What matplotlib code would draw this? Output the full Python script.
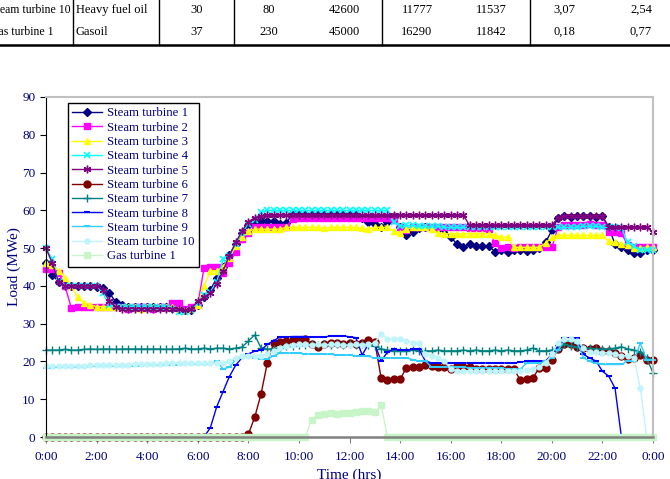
"""Recreate the turbine load profile chart (with the cut-off table rows above it)."""

import matplotlib

matplotlib.use("Agg")

import matplotlib.pyplot as plt
import numpy as np
from matplotlib.lines import Line2D

# 15-minute readings, 0:00 .. 24:00 (97 points)
hours = np.arange(97) / 4.0

steam_1 = [
    46, 43, 41, 40.5, 40, 40, 40, 40,
    39.8, 39.5, 38.2, 35.8, 35, 34.5, 34.5, 34.5,
    34.5, 34.5, 34.3, 34.3, 34.2, 34, 33.5, 33.5,
    35, 37, 39, 42, 45, 48.3, 51, 54,
    56, 57, 57.2, 57.2, 57.3, 56.5, 56.6, 59.2,
    59, 59, 59, 59, 59, 59, 59, 59,
    59, 59, 58, 56.8, 56.5, 55.5, 57, 58.2,
    55.5, 53.6, 54.2, 55.2, 55.5, 55.3, 55, 55,
    53, 51, 50.2, 51, 50.5, 50.5, 50.5, 49.1,
    49.5, 49.1, 49.4, 49.4, 49.3, 49.5, 50, 51.5,
    54.7, 58.1, 58.5, 58.3, 58.5, 58.4, 58.5, 58.3,
    58.4, 55.5, 51, 50.2, 49.6, 48.6, 48.8, 49.6,
    49.6,
]
steam_2 = [
    44.5, 44.5, 43.5, 40, 34.2, 34.5, 34.5, 34.5,
    34.5, 34.5, 34.5, 34.5, 34.5, 34, 34.5, 34.5,
    34.5, 34, 34.5, 34.5, 35.5, 35.5, 34, 34.5,
    35, 44.8, 45, 45, 43.5, 46, 49, 52.5,
    54, 55.5, 55.5, 55.5, 55.5, 55.5, 55.5, 57.8,
    58, 58, 58, 58, 58, 58, 58, 58,
    58, 58, 58, 58, 58, 58, 58, 57.5,
    55.5, 54.7, 55.5, 55.5, 55.5, 55.5, 55.5, 55.5,
    55.5, 55.5, 55.5, 55.3, 55.3, 55.3, 55, 51.3,
    50, 50.2, 50, 50.2, 50.2, 50.2, 50.2, 50.2,
    50.2, 55.5, 56, 56, 56, 56.2, 56.5, 56,
    56, 54.2, 54.2, 54, 50.7, 50.2, 50.2, 50.2,
    50.2,
]
steam_3 = [
    46, 45.5, 44, 42, 40, 37, 35.5, 35,
    34.5, 34.5, 34.5, 34.5, 34.5, 34.5, 34.5, 34,
    34.5, 34.5, 34.5, 34.5, 34.5, 34, 33.5, 34,
    35, 40, 44, 44, 45, 47.5, 50.5, 53,
    54.5, 55, 55, 55, 55, 55, 55.5, 55.5,
    55.5, 55.5, 55.5, 55.5, 55.2, 55.5, 55.5, 55.5,
    55.5, 55.5, 55.2, 55, 55.5, 55.5, 55.5, 54.5,
    54, 55, 55.5, 55.5, 55.5, 55, 54, 53.8,
    53.8, 53.8, 53.8, 53.8, 53.8, 53.8, 53.8, 53.4,
    52.9, 52.9, 50.2, 50.2, 50.2, 50.2, 50.2, 51.3,
    52.9, 53.4, 53.4, 53.4, 53.4, 53.4, 53.4, 53.4,
    53.4, 51.8, 51.5, 51.2, 50.7, 49.9, 50, 50.2,
    50.2,
]
steam_4 = [
    50, 47, 41, 40, 40, 40, 40, 40,
    40, 38, 35, 34.5, 34.5, 34.5, 34.5, 34.5,
    34.5, 34.5, 34.5, 34.5, 34, 33, 33, 33.5,
    35.5, 37.5, 38.5, 41, 47, 48, 51, 54,
    56.5, 57.5, 59.5, 60, 60, 60, 60, 60,
    60, 60, 60, 60, 60, 60, 60, 60,
    60, 60, 60, 60, 60, 60, 60, 57,
    55.8, 56, 56, 55.8, 55.8, 55.8, 55.8, 55.5,
    55.5, 55.5, 55.5, 55.5, 55.5, 55.5, 55.5, 55.5,
    55.5, 55.5, 55.5, 55.5, 55.5, 55.5, 55.5, 55.5,
    55.5, 55.5, 55.5, 55.5, 55.5, 55.8, 55.8, 55.8,
    55.5, 55.5, 55.5, 55.3, 51.5, 50.5, 49.5, 49.5,
    49.5,
]
steam_5 = [
    50, 46, 41, 40, 40, 40, 40, 40,
    40, 39, 36, 34.5, 34, 34, 34, 34,
    34, 34, 34, 34, 34, 33.8, 33.5, 34,
    36, 37, 38, 40.5, 44, 48, 51.5, 54.5,
    57, 58, 58.5, 58.7, 58.7, 58.7, 58.7, 58.7,
    58.7, 58.7, 58.7, 58.7, 58.7, 58.7, 58.7, 58.7,
    58.7, 58.7, 58.7, 58.7, 58.7, 58.7, 58.7, 58.7,
    58.7, 58.7, 58.7, 58.7, 58.7, 58.7, 58.7, 58.7,
    58.7, 58.7, 58.7, 56, 56, 56, 56, 56,
    56, 56, 56, 56, 56, 56, 56, 56,
    56, 58.1, 58.5, 58.5, 58.5, 58.5, 58.5, 58.5,
    58.5, 55.5, 55.5, 55.5, 55.5, 55.5, 55.5, 55.5,
    54.2,
]
steam_6 = [
    0, 0, 0, 0, 0, 0, 0, 0,
    0, 0, 0, 0, 0, 0, 0, 0,
    0, 0, 0, 0, 0, 0, 0, 0,
    0, 0, 0, 0, 0, 0, 0, 0,
    0.7, 5.2, 11.3, 19.6, 24.9, 25.2, 25.5, 25.6,
    25.8, 26, 24.6, 23.8, 24.5, 24.9, 24.9, 24.5,
    24.9, 24.5, 24.8, 25.7, 25.2, 15.6, 15.1, 15.3,
    15.3, 18.3, 18.5, 18.5, 19.1, 18.9, 18.6, 18.6,
    17.9, 18.7, 18.5, 18.5, 18, 18, 18, 18,
    18, 18, 18, 15.1, 15.3, 15.6, 18.3, 18.3,
    20.5, 23.2, 24.6, 24.6, 23.8, 23.5, 23.2, 23.5,
    22.7, 22.7, 22.2, 21.5, 20.6, 20.9, 21.7, 20.4,
    20.4,
]
steam_7 = [
    23, 23, 23, 23.2, 23, 23, 23.2, 23.3,
    23.2, 23.3, 23.3, 23.2, 23.3, 23.3, 23.3, 23.3,
    23.3, 23.3, 23.3, 23.2, 23.3, 23.3, 23.5, 23.3,
    23.3, 23.5, 23.3, 23.5, 23.5, 23.3, 23.5, 23.8,
    25.4, 27, 23.6, 23.3, 23.3, 23.6, 24.1, 24.1,
    24.3, 24.3, 24.5, 24.3, 24.5, 24.3, 24.5, 24.3,
    24.5, 24.3, 24.5, 24.3, 24.1, 23.3, 23, 22.8,
    22.8, 22.8, 23, 22.8, 22.8, 22.8, 23, 22.8,
    22.8, 22.8, 23, 22.8, 23, 22.8, 22.8, 23,
    22.8, 23, 22.8, 22.8, 23, 23.5, 22.8, 22.8,
    23, 23.5, 24.5, 24.1, 23.8, 23.5, 23.5, 23.3,
    23.3, 23.3, 23.5, 23.9, 23.3, 23, 22.5, 20.9,
    17,
]
steam_8 = [
    0, 0, 0, 0, 0, 0, 0, 0,
    0, 0, 0, 0, 0, 0, 0, 0,
    0, 0, 0, 0, 0, 0, 0, 0,
    0, 0, 2.5, 8, 12, 16, 19, 21,
    22, 22.7, 23, 24.5, 25.5, 26.5, 26.5, 26.6,
    26.6, 26.6, 26.5, 26.5, 26.5, 26.7, 26.8, 26.8,
    26.5, 26.3, 21.7, 24.6, 24.6, 20.1, 22.5, 23.2,
    23, 23, 23.2, 23.2, 20.1, 19.6, 19.6, 19.6,
    19.6, 19.6, 19.6, 19.6, 19.6, 19.6, 19.6, 19.6,
    19.6, 19.6, 19.6, 19.8, 20.1, 20.1, 20.1, 20.1,
    21.9, 24.1, 26.2, 26.2, 26.2, 21.9, 20.9, 20.1,
    17.4, 16.1, 12.9, 0, 0, 0, 0, 0,
    0,
]
steam_9 = [
    18.3, 18.3, 18.5, 18.5, 18.5, 18.5, 18.5, 18.7,
    18.7, 18.7, 18.7, 18.7, 18.7, 18.7, 18.9, 18.9,
    19.1, 19.1, 19.1, 19.1, 19.1, 19.1, 19.3, 19.3,
    19.3, 19.3, 19.3, 20.1, 18, 18.5, 20.5, 21,
    21.7, 21, 20.6, 20.6, 21.5, 22.2, 22.2, 22.2,
    22.2, 22, 22, 22, 21.9, 21.9, 21.7, 21.7,
    21.7, 21.5, 21.4, 21.4, 20.9, 20.9, 20.9, 20.9,
    20.9, 20.9, 20.5, 20.1, 20.1, 18.5, 18.5, 18.5,
    18.5, 18.5, 18.5, 18.3, 18.3, 18.3, 18.3, 18.3,
    18.3, 18, 18, 18, 19.5, 19.5, 19.5, 20.1,
    21, 23, 25.5, 25.5, 25, 21, 20, 19.5,
    19.2, 19.2, 19.2, 19.2, 20.1, 20.1, 24.9, 20.4,
    20.4,
]
steam_10 = [
    18.8, 18.8, 18.8, 18.8, 18.8, 18.8, 18.8, 19,
    19, 19, 19, 19, 19, 19, 19.2, 19.2,
    19.3, 19.3, 19.3, 19.5, 19.5, 19.5, 19.5, 19.5,
    19.5, 19.5, 19.5, 19.5, 19.7, 20, 21, 21.5,
    21.5, 21.5, 21.5, 22, 22.8, 23.5, 24, 24.3,
    24.5, 24.5, 24.3, 24.5, 24.3, 24.5, 24.5, 24.3,
    24.3, 24.5, 24.3, 24.5, 24.9, 27.3, 26, 26,
    26, 25.5, 25, 24.9, 22, 21.5, 21, 20,
    18, 17.5, 17.5, 17.5, 17.5, 17.5, 17.5, 17.5,
    17.5, 17.5, 17.5, 17.5, 17.8, 18, 18.5, 19.5,
    22, 25, 26, 26, 25.5, 23.5, 22.5, 22.5,
    22.3, 22.3, 22, 21.5, 21.5, 20.9, 12.9, 0,
    0,
]
gas_1 = [
    0, 0, 0, 0, 0, 0, 0, 0,
    0, 0, 0, 0, 0, 0, 0, 0,
    0, 0, 0, 0, 0, 0, 0, 0,
    0, 0, 0, 0, 0, 0, 0, 0,
    0, 0, 0, 0, 0, 0, 0, 0,
    0, 0, 4.6, 5.8, 6.2, 6.3, 6.2, 6.3,
    6.4, 6.5, 6.8, 7, 6.5, 8.4, 0, 0,
    0, 0, 0, 0, 0, 0, 0, 0,
    0, 0, 0, 0, 0, 0, 0, 0,
    0, 0, 0, 0, 0, 0, 0, 0,
    0, 0, 0, 0, 0, 0, 0, 0,
    0, 0, 0, 0, 0, 0, 0, 0,
    0,
]

series_names = [
    "Steam turbine 1", "Steam turbine 2", "Steam turbine 3", "Steam turbine 4",
    "Steam turbine 5", "Steam turbine 6", "Steam turbine 7", "Steam turbine 8",
    "Steam turbine 9", "Steam turbine 10", "Gas turbine 1",
]
series_values = [
    steam_1, steam_2, steam_3, steam_4, steam_5, steam_6,
    steam_7, steam_8, steam_9, steam_10, gas_1,
]

x_ticks = list(range(0, 25, 2))
x_tick_labels = ["0:00", "2:00", "4:00", "6:00", "8:00", "10:00", "12:00",
                 "14:00", "16:00", "18:00", "20:00", "22:00", "0:00"]

# table rows cut off above the chart
table_rows = [
    ["Steam turbine 10", "Heavy fuel oil", "30", "80", "42600", "11777", "11537", "3,07", "2,54"],
    ["Gas turbine 1", "Gasoil", "37", "230", "45000", "16290", "11842", "0,18", "0,77"],
]

STYLES = [
    dict(color="#000080", marker="D", ms=4),
    dict(color="#FF00FF", marker="s", ms=5),
    dict(color="#FFFF00", marker="^", ms=5),
    dict(color="#00FFFF", marker="x", ms=4.5, mew=1.2),
    dict(color="#800080", marker=(6, 2, 0), ms=5.5, mew=1),
    dict(color="#800000", marker="o", ms=5),
    dict(color="#008080", marker="+", ms=5.5, mew=1),
    dict(color="#0000FF", marker="_", ms=4, mew=1.5),
    dict(color="#33CCFF", marker="_", ms=4, mew=1.5),
    dict(color="#BFF4FA", marker="o", ms=3.5),
    dict(color="#C8F5C8", marker="s", ms=4),
]

TEXT_COLOR = "#000080"
W, H = 670, 479

plt.rcParams["font.family"] = ["Liberation Serif", "DejaVu Serif"]

fig = plt.figure(figsize=(W / 100, H / 100), dpi=100)
ax = fig.add_axes([46 / W, 1 - 437 / H, (653 - 46) / W, (437 - 97) / H])

for name, values, style in zip(series_names, series_values, STYLES):
    ax.plot(hours, values, label=name, lw=1.0, clip_on=False,
            mec=style["color"], **style)

ax.set_xlim(0, 24)
ax.set_ylim(0, 90)
ax.set_yticks(np.arange(0, 91, 10))
ax.set_xticks(x_ticks)
ax.set_xticklabels(x_tick_labels)
ax.tick_params(axis="both", labelsize=9.5, labelcolor=TEXT_COLOR, direction="out", length=4)
ax.tick_params(axis="x", color="#808080", pad=6)
ax.set_xlabel("Time (hrs)", fontsize=11, color=TEXT_COLOR, labelpad=4)
ax.set_ylabel("Load (MWe)", fontsize=11, color=TEXT_COLOR, labelpad=1)

ax.spines["left"].set_color("black")
ax.spines["bottom"].set_color("#808080")
ax.spines["bottom"].set_linewidth(1.8)
for side in ("top", "right"):
    ax.spines[side].set_color("#C0C0C0")
    ax.spines[side].set_linewidth(1.5)

legend = ax.legend(
    loc="upper left", bbox_to_anchor=((68 - 46) / 607, (437 - 103) / 340),
    fontsize=9.2, labelcolor=TEXT_COLOR, frameon=True, fancybox=False,
    edgecolor="black", framealpha=1, numpoints=1, handlelength=2.3,
    handletextpad=0.4, labelspacing=0.18, borderpad=0.35, borderaxespad=0,
)
legend.get_frame().set_linewidth(1.0)

# the two table rows at the top of the page (first column runs off the left edge)
col_x = [-10, 76, 197, 269, 344, 417, 491, 564, 641]
row_y = [10, 32]
for row, y in zip(table_rows, row_y):
    for j, (cell, x) in enumerate(zip(row, col_x)):
        ha = "left" if j < 2 else "center"
        size = 8.5 if j == 0 else 9
        fig.text(x / W, 1 - y / H, cell, ha=ha, va="center", fontsize=size, color="black")

for x in [73, 159, 234, 382, 530]:
    fig.add_artist(Line2D([x / W, x / W], [1, 1 - 45 / H], color="black", lw=1.0))
fig.add_artist(Line2D([0, 1], [1 - 45 / H, 1 - 45 / H], color="black", lw=1.8))

fig.savefig("out.png", dpi=100)
